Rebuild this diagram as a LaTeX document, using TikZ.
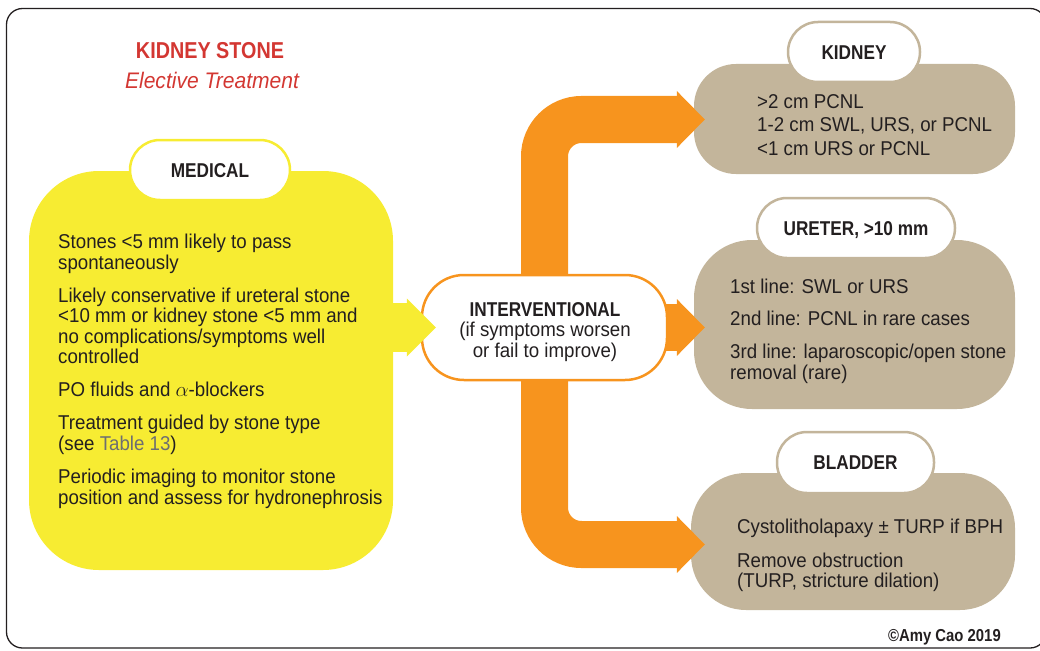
\documentclass[tikz,border=0pt]{standalone}
\usepackage{fontspec}
\setmainfont[FakeStretch=0.935]{Liberation Sans}
\newfontfamily\headfont[FakeStretch=0.86]{Liberation Sans}
\usetikzlibrary{calc}
\definecolor{ink}{RGB}{35,31,32}
\definecolor{myyellow}{RGB}{247,236,50}
\definecolor{myorange}{RGB}{247,148,30}
\definecolor{mytan}{RGB}{195,181,155}
\definecolor{titlered}{RGB}{211,55,50}
\definecolor{tablegray}{RGB}{109,110,113}
\pgfdeclarelayer{back}
\pgfdeclarelayer{mid}
\pgfsetlayers{back,mid,main}
\begin{document}
\begin{tikzpicture}[x=1pt,y=-1pt,
  txt/.style={font=\fontsize{20}{20.6}\selectfont, text=ink, align=left, inner sep=0pt, anchor=base west},
  pillshape/.style={draw, line width=2.5pt, fill=white, inner sep=0pt},
  pill/.style={pillshape, rounded corners=30pt, minimum height=60pt,
    font=\headfont\bfseries\fontsize{20}{20}\selectfont, text=ink, text height=14.3pt, text depth=0pt},
  boxshape/.style={inner sep=0pt, fill=mytan},
  band/.style={line width=47pt, draw=myorange},
]
\useasboundingbox (0,0) rectangle (1040,650);
\draw[line width=1.3pt, draw=ink, rounded corners=16pt] (6.5,8.5) rectangle (1046,648);

\begin{pgfonlayer}{back}
\node[boxshape, fill=myyellow, rounded corners=70pt, minimum width=364pt, minimum height=399pt] (medbox) at (211,370.5) {};
\node[boxshape, rounded corners=42pt, minimum width=321pt, minimum height=110pt] (kidneybox) at (854.5,119) {};
\node[boxshape, rounded corners=58pt, minimum width=321pt, minimum height=169pt] (ureterbox) at (854.5,324.5) {};
\node[boxshape, rounded corners=55pt, minimum width=324pt, minimum height=137pt] (bladderbox) at (853,541.5) {};
\end{pgfonlayer}

% titles
\node[font=\headfont\bfseries\fontsize{23}{23}\selectfont, text=titlered, anchor=base, inner sep=0pt] (title) at (210,59) {KIDNEY STONE};
\node[font=\itshape\fontsize{22.5}{22.5}\selectfont, text=titlered, anchor=base, inner sep=0pt] (subtitle) at (212,89) {Elective Treatment};

% pills
\node[pill, draw=myyellow, minimum width=160pt] (medpill) at (210,170) {MEDICAL};
\node[pill, draw=mytan, minimum width=132pt] (kidpill) at (854,52) {KIDNEY};
\node[pill, draw=mytan, minimum width=198pt] (urepill) at (856,228) {URETER, >10 mm};
\node[pill, draw=mytan, minimum width=157pt, minimum height=61pt] (bladpill) at (855.5,462.5) {BLADDER};

% box texts (anchor base = baseline of the last line)
\node[txt] (medtxt) at (58,504) {Stones <5 mm likely to pass\\ spontaneously\\[12.4pt]
  Likely conservative if ureteral stone\\ <10 mm or kidney stone <5 mm and\\ no complications/symptoms well\\ controlled\\[12.4pt]
  PO fluids and $\alpha$-blockers\\[12.4pt]
  Treatment guided by stone type\\ (see \textcolor{tablegray}{Table 13})\\[12.4pt]
  Periodic imaging to monitor stone\\ position and assess for hydronephrosis};
\node[txt, font=\fontsize{20}{23.5}\selectfont] (kidtxt) at (757,155) {>2 cm PCNL\\ 1-2 cm SWL, URS, or PCNL\\ <1 cm URS or PCNL};
\node[txt, font=\fontsize{20}{21}\selectfont] (uretxt) at (730,379) {1st line: SWL or URS\\[11.5pt] 2nd line: PCNL in rare cases\\[11.5pt] 3rd line: laparoscopic/open stone\\ removal (rare)};
\node[txt, font=\fontsize{20}{20}\selectfont] (bladtxt) at (737,587) {Cystolitholapaxy ± TURP if BPH\\[14pt] Remove obstruction\\ (TURP, stricture dilation)};

% interventional
\node[pillshape, draw=myorange, rounded corners=42pt, minimum width=245pt, minimum height=105pt] (interv) at (544.5,327.5) {};
\node[font=\fontsize{20}{20.5}\selectfont, text=ink, align=center, anchor=base, inner sep=0pt] (intertxt) at (545,357)
  {{\headfont\bfseries INTERVENTIONAL}\\ (if symptoms worsen\\ or fail to improve)};

% orange connectors
\coordinate (ktip) at ($(kidneybox.west)+(11,0.5)$);
\coordinate (utip) at ($(ureterbox.west)+(11,3)$);
\coordinate (btip) at ($(bladderbox.west)+(14,3)$);
\begin{pgfonlayer}{mid}
\draw[band, rounded corners=37pt] (interv.center) |- ($(ktip)+(-27,0)$);
\draw[band, rounded corners=37pt] (interv.center) |- ($(btip)+(-27,0)$);
\draw[band] (interv.center) -- ($(utip)+(-27,0)$);
\fill[myorange] (ktip) -- ++(-28,-28.5) -- ++(0,57) -- cycle;
\fill[myorange] (utip) -- ++(-28,-28.5) -- ++(0,57) -- cycle;
\fill[myorange] (btip) -- ++(-28,-28.5) -- ++(0,57) -- cycle;
\end{pgfonlayer}

% yellow connector
\coordinate (ytip) at ($(interv.west)+(15,0)$);
\draw[line width=49pt, draw=myyellow] ($(medbox.east |- interv.west)+(-6,0)$) -- ($(ytip)+(-28,0)$);
\fill[myyellow] (ytip) -- ++(-29,-29) -- ++(0,58) -- cycle;

% copyright
\node[font=\headfont\bfseries\fontsize{17.3}{17.3}\selectfont, text=ink, anchor=base east, inner sep=0pt] (copy) at (1001,641) {©Amy Cao 2019};
\end{tikzpicture}
\end{document}
